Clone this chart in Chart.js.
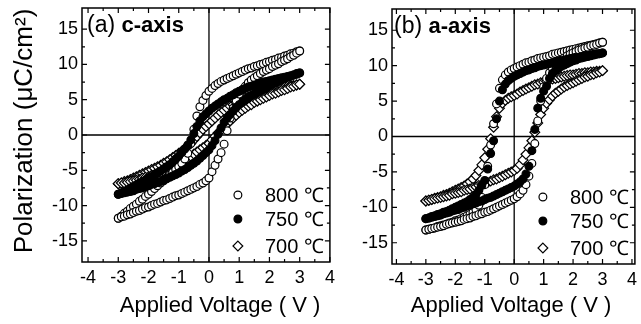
<!DOCTYPE html>
<html><head><meta charset="utf-8">
<script src="https://cdn.jsdelivr.net/npm/chart.js@4/dist/chart.umd.min.js"></script>
<style>
html,body{margin:0;padding:0;background:#fff;overflow:hidden;width:641px;height:324px}
#wa{position:absolute;left:0;top:0;width:336px;height:324px}
#wb{position:absolute;left:336px;top:0;width:305px;height:324px}
canvas{display:block}
</style></head><body>
<div id="wa"><canvas id="ca" width="336" height="324"></canvas></div>
<div id="wb"><canvas id="cb" width="305" height="324"></canvas></div>
<script>
// ---------- data ----------
const voltage = [-3.0,-2.9,-2.8,-2.7,-2.6,-2.5,-2.4,-2.3,-2.2,-2.1,
  -2.0,-1.9,-1.8,-1.7,-1.6,-1.5,-1.4,-1.3,-1.2,-1.1,
  -1.0,-0.9,-0.8,-0.7,-0.6,-0.5,-0.4,-0.3,-0.2,-0.1,
  0.0,0.1,0.2,0.3,0.4,0.5,0.6,0.7,0.8,0.9,
  1.0,1.1,1.2,1.3,1.4,1.5,1.6,1.7,1.8,1.9,
  2.0,2.1,2.2,2.3,2.4,2.5,2.6,2.7,2.8,2.9,
  3.0];
const temperatures = ['800 \u2103','750 \u2103','700 \u2103'];

// (a) c-axis
const cAxis800Down = [-11.8,-11.5,-11.1,-10.8,-10.4,-10.1,-9.8,-9.4,-9.1,-8.7,
  -8.4,-8.0,-7.6,-7.2,-6.8,-6.5,-6.1,-5.7,-5.3,-4.9,
  -4.5,-4.0,-3.4,-2.6,-1.2,0.8,2.7,4.0,4.9,5.6,
  6.2,6.6,7.0,7.3,7.6,7.8,8.0,8.2,8.4,8.6,
  8.8,9.0,9.2,9.4,9.5,9.7,9.8,10.0,10.1,10.3,
  10.4,10.6,10.7,10.9,11.0,11.2,11.3,11.5,11.6,11.8,
  11.9];
const cAxis800Up = [-11.8,-11.6,-11.5,-11.3,-11.2,-11.0,-10.8,-10.7,-10.5,-10.3,
  -10.2,-10.0,-9.8,-9.7,-9.5,-9.3,-9.2,-9.0,-8.8,-8.6,
  -8.5,-8.3,-8.1,-7.9,-7.7,-7.5,-7.3,-7.0,-6.8,-6.5,
  -6.1,-5.2,-4.3,-3.4,-2.5,-1.3,0.6,2.4,3.8,4.9,
  5.8,6.4,6.9,7.4,7.8,8.1,8.4,8.7,9.0,9.2,
  9.4,9.7,9.9,10.1,10.4,10.6,10.8,11.1,11.3,11.6,
  11.9];
const cAxis750Down = [-8.4,-8.2,-8.0,-7.8,-7.5,-7.3,-7.1,-6.8,-6.6,-6.4,
  -6.1,-5.9,-5.6,-5.4,-5.1,-4.8,-4.5,-4.2,-3.8,-3.4,
  -3.0,-2.5,-2.0,-1.4,-0.7,0.2,1.2,2.0,2.6,3.0,
  3.4,3.8,4.1,4.4,4.7,5.0,5.2,5.5,5.7,6.0,
  6.2,6.4,6.6,6.8,6.9,7.1,7.2,7.4,7.5,7.6,
  7.7,7.8,7.9,8.0,8.1,8.2,8.3,8.4,8.5,8.6,
  8.8];
const cAxis750Up = [-8.4,-8.3,-8.2,-8.1,-8.0,-7.9,-7.7,-7.6,-7.5,-7.3,
  -7.2,-7.0,-6.9,-6.7,-6.6,-6.4,-6.2,-6.0,-5.8,-5.6,
  -5.4,-5.1,-4.9,-4.6,-4.3,-4.0,-3.7,-3.3,-2.9,-2.5,
  -2.1,-1.5,-0.8,0.1,1.0,1.8,2.4,2.9,3.4,3.9,
  4.3,4.6,5.0,5.3,5.6,5.8,6.1,6.3,6.5,6.7,
  7.0,7.2,7.4,7.6,7.8,8.0,8.2,8.3,8.5,8.7,
  8.8];
const cAxis700Down = [-6.9,-6.8,-6.6,-6.5,-6.3,-6.1,-5.9,-5.7,-5.5,-5.3,
  -5.1,-4.9,-4.7,-4.5,-4.3,-4.0,-3.8,-3.5,-3.2,-2.9,
  -2.6,-2.3,-1.9,-1.6,-1.2,-0.7,-0.2,0.3,0.8,1.2,
  1.6,2.0,2.4,2.8,3.2,3.5,3.8,4.1,4.3,4.6,
  4.8,5.0,5.2,5.4,5.5,5.7,5.8,5.9,6.1,6.2,
  6.3,6.4,6.5,6.6,6.7,6.8,6.9,7.0,7.0,7.1,
  7.2];
const cAxis700Up = [-6.9,-6.8,-6.8,-6.7,-6.6,-6.5,-6.4,-6.3,-6.1,-6.0,
  -5.9,-5.7,-5.6,-5.4,-5.3,-5.1,-4.9,-4.7,-4.5,-4.3,
  -4.1,-3.8,-3.6,-3.3,-3.0,-2.7,-2.4,-2.1,-1.8,-1.5,
  -1.2,-0.7,-0.2,0.3,0.7,1.1,1.6,2.0,2.4,2.8,
  3.2,3.5,3.8,4.1,4.3,4.6,4.8,5.0,5.2,5.4,
  5.6,5.8,5.9,6.1,6.3,6.4,6.6,6.8,6.9,7.1,
  7.2];

// (b) a-axis
const aAxis800Down = [-13.2,-13.1,-13.0,-12.9,-12.7,-12.6,-12.5,-12.4,-12.2,-12.1,
  -11.9,-11.8,-11.6,-11.4,-11.2,-11.0,-10.7,-10.3,-9.7,-8.6,
  -6.8,-4.2,-1.2,1.8,4.6,6.8,8.0,8.7,9.1,9.4,
  9.6,9.8,10.0,10.2,10.4,10.5,10.7,10.8,11.0,11.1,
  11.2,11.3,11.4,11.6,11.7,11.8,11.9,12.0,12.1,12.2,
  12.3,12.4,12.5,12.6,12.7,12.8,12.9,13.0,13.1,13.2,
  13.3];
const aAxis800Up = [-13.2,-13.1,-13.0,-12.9,-12.8,-12.7,-12.6,-12.4,-12.3,-12.2,
  -12.1,-12.0,-11.9,-11.7,-11.6,-11.5,-11.3,-11.2,-11.0,-10.9,
  -10.7,-10.6,-10.4,-10.2,-10.0,-9.8,-9.6,-9.4,-9.2,-9.0,
  -8.8,-8.5,-8.1,-7.6,-6.8,-5.6,-3.8,-1.0,2.2,5.0,
  7.0,8.2,9.0,9.6,10.1,10.5,10.8,11.1,11.4,11.6,
  11.8,12.0,12.2,12.3,12.5,12.6,12.8,12.9,13.0,13.2,
  13.3];
const aAxis750Down = [-11.6,-11.5,-11.3,-11.2,-11.0,-10.9,-10.7,-10.6,-10.4,-10.2,
  -10.0,-9.8,-9.6,-9.4,-9.2,-8.9,-8.6,-8.2,-7.6,-6.9,
  -6.2,-4.6,-2.4,-0.6,2.5,5.0,6.6,7.4,7.9,8.2,
  8.5,8.7,8.9,9.1,9.3,9.4,9.6,9.7,9.9,10.0,
  10.1,10.2,10.3,10.4,10.5,10.6,10.7,10.8,10.9,11.0,
  11.1,11.2,11.2,11.3,11.4,11.4,11.5,11.6,11.7,11.7,
  11.8];
const aAxis750Up = [-11.6,-11.5,-11.4,-11.3,-11.2,-11.1,-10.9,-10.8,-10.7,-10.5,
  -10.4,-10.3,-10.1,-10.0,-9.8,-9.7,-9.5,-9.4,-9.2,-9.1,
  -8.9,-8.7,-8.6,-8.4,-8.2,-8.0,-7.8,-7.6,-7.4,-7.2,
  -7.0,-6.7,-6.4,-6.0,-5.3,-4.2,-2.0,1.0,4.0,5.4,
  6.4,7.1,8.2,8.9,9.3,9.6,9.9,10.1,10.3,10.5,
  10.7,10.8,11.0,11.1,11.2,11.3,11.4,11.5,11.6,11.7,
  11.8];
const aAxis700Down = [-9.1,-9.0,-8.9,-8.7,-8.6,-8.5,-8.3,-8.2,-8.0,-7.8,
  -7.6,-7.4,-7.2,-7.0,-6.7,-6.4,-6.0,-5.5,-4.8,-4.0,
  -3.0,-1.8,-0.3,1.3,2.8,4.0,4.7,5.1,5.4,5.6,
  5.8,6.0,6.3,6.5,6.7,6.9,7.1,7.3,7.4,7.6,
  7.7,7.8,8.0,8.1,8.2,8.3,8.4,8.5,8.6,8.7,
  8.7,8.8,8.9,8.9,9.0,9.0,9.1,9.1,9.2,9.2,
  9.3];
const aAxis700Up = [-9.1,-9.0,-8.9,-8.8,-8.7,-8.6,-8.5,-8.4,-8.3,-8.1,
  -8.0,-7.9,-7.8,-7.6,-7.5,-7.4,-7.2,-7.1,-6.9,-6.8,
  -6.6,-6.5,-6.3,-6.1,-6.0,-5.8,-5.6,-5.4,-5.2,-5.0,
  -4.8,-4.5,-4.0,-3.3,-2.5,-1.6,-0.6,0.6,1.9,3.1,
  4.0,4.7,5.2,5.7,6.1,6.4,6.7,7.0,7.2,7.4,
  7.6,7.8,8.0,8.2,8.4,8.5,8.7,8.8,9.0,9.1,
  9.3];

const xTicks = [-4,-3,-2,-1,0,1,2,3,4];
const xMinorTicks = [-3.5,-2.5,-1.5,-0.5,0.5,1.5,2.5,3.5];
const yTicks = [-15,-10,-5,0,5,10,15];
const yMinorTicks = [-12.5,-7.5,-2.5,2.5,7.5,12.5];

// ---------- drawing ----------
const FAM = "'Liberation Sans', Arial, Helvetica, sans-serif";
const markerDefs = [
  {style:'circle', radius:3.9, fill:'#fff'},
  {style:'circle', radius:3.9, fill:'#000'},
  {style:'rectRot', radius:4.9, fill:'#fff'}
];

function buildPoints(down, up) {
  return voltage.map((v,i)=>({x:v, y:down[i]})).concat(voltage.map((v,i)=>({x:v, y:up[i]})));
}

function drawMarker(ctx, m, x, y) {
  ctx.beginPath();
  if (m.style === 'circle') {
    ctx.arc(x, y, m.radius, 0, Math.PI*2);
  } else {
    ctx.moveTo(x, y - m.radius); ctx.lineTo(x + m.radius, y);
    ctx.lineTo(x, y + m.radius); ctx.lineTo(x - m.radius, y); ctx.closePath();
  }
  ctx.fillStyle = m.fill; ctx.fill();
  ctx.lineWidth = 1.2; ctx.strokeStyle = '#000'; ctx.stroke();
}

const decor = {
  id: 'decor',
  beforeDatasetsDraw(chart) {
    const {ctx, chartArea: ca, scales: {x, y}} = chart;
    ctx.save();
    ctx.strokeStyle = '#000'; ctx.lineWidth = 1.3;
    const x0 = x.getPixelForValue(0), y0 = y.getPixelForValue(0);
    ctx.beginPath();
    ctx.moveTo(x0, ca.top); ctx.lineTo(x0, ca.bottom);
    ctx.moveTo(ca.left, y0); ctx.lineTo(ca.right, y0);
    ctx.stroke();
    ctx.restore();
  },
  afterDraw(chart, args, o) {
    const {ctx, chartArea: ca, scales: {x, y}} = chart;
    ctx.save();
    ctx.strokeStyle = '#000';
    ctx.lineWidth = 1.2;
    ctx.beginPath();
    const tx = (vals, len) => vals.forEach(v => {
      const px = x.getPixelForValue(v);
      ctx.moveTo(px, ca.bottom); ctx.lineTo(px, ca.bottom - len);
      ctx.moveTo(px, ca.top); ctx.lineTo(px, ca.top + len);
    });
    const ty = (vals, len) => vals.forEach(v => {
      const py = y.getPixelForValue(v);
      ctx.moveTo(ca.left, py); ctx.lineTo(ca.left + len, py);
      ctx.moveTo(ca.right, py); ctx.lineTo(ca.right - len, py);
    });
    tx(xTicks, 5); tx(xMinorTicks, 3); ty(yTicks, 5); ty(yMinorTicks, 3);
    ctx.stroke();
    ctx.lineWidth = 1.5;
    ctx.strokeRect(ca.left, ca.top, ca.right - ca.left, ca.bottom - ca.top);

    ctx.fillStyle = '#000';
    ctx.textBaseline = 'alphabetic'; ctx.textAlign = 'left';
    ctx.font = '23px ' + FAM;
    const lx = ca.left + o.labelDx, ly = ca.top + 24;
    ctx.fillText(o.labelA, lx, ly);
    const w = ctx.measureText(o.labelA).width;
    ctx.font = 'bold 22px ' + FAM;
    ctx.fillText(o.labelB, lx + w, ly);

    const rowsFromBottom = [67, 43, 16];
    ctx.font = '20px ' + FAM;
    ctx.textBaseline = 'middle';
    temperatures.forEach((t, i) => {
      const yy = ca.bottom - rowsFromBottom[i];
      drawMarker(ctx, markerDefs[i], ca.right - 92, yy);
      ctx.fillStyle = '#000';
      ctx.fillText(t, ca.right - 65, yy + 1);
    });

    ctx.font = '22px ' + FAM;
    ctx.textAlign = 'center'; ctx.textBaseline = 'alphabetic';
    ctx.fillText('Applied Voltage ( V )', o.xTitleX, 312);

    if (o.yTitle) {
      ctx.translate(25, 131);
      ctx.rotate(-Math.PI / 2);
      ctx.font = '26px ' + FAM;
      ctx.textAlign = 'center'; ctx.textBaseline = 'middle';
      ctx.fillText(o.yTitle, 0, 0);
    }
    ctx.restore();
  }
};

function makeChart(id, series, opt) {
  const order = [1, 0, 2];
  const datasets = order.map(k => ({
    label: temperatures[k],
    data: buildPoints(series[k][0], series[k][1]),
    pointStyle: markerDefs[k].style,
    pointRadius: markerDefs[k].radius,
    pointBackgroundColor: markerDefs[k].fill,
    pointBorderColor: '#000',
    pointBorderWidth: 1.2,
    showLine: false
  }));
  return new Chart(document.getElementById(id), {
    type: 'scatter',
    data: {datasets},
    plugins: [decor],
    options: {
      responsive: false, animation: false, devicePixelRatio: 1,
      layout: {padding: opt.padding},
      plugins: {legend: {display: false}, tooltip: {enabled: false},
        decor: {labelA: opt.labelA, labelB: opt.labelB, labelDx: opt.labelDx, xTitleX: opt.xTitleX, yTitle: opt.yTitle}},
      scales: {
        x: {
          type: 'linear', min: opt.xMin, max: opt.xMax,
          afterBuildTicks: s => { s.ticks = xTicks.map(v => ({value: v})); },
          afterFit: s => { s.height = opt.xHeight; s.paddingLeft = 0; s.paddingRight = 0; },
          ticks: {color: '#000', font: {family: FAM, size: 18}, padding: 5, maxRotation: 0, autoSkip: false,
                  callback: v => String(v)},
          grid: {display: false, drawTicks: false}, border: {display: false}
        },
        y: {
          type: 'linear', min: -18, max: 18,
          afterBuildTicks: s => { s.ticks = yTicks.map(v => ({value: v})); },
          afterFit: s => { s.width = opt.yWidth; s.paddingTop = 0; s.paddingBottom = 0; },
          ticks: {color: '#000', font: {family: FAM, size: 18}, padding: 4, autoSkip: false,
                  callback: v => String(v)},
          grid: {display: false, drawTicks: false}, border: {display: false}
        }
      }
    }
  });
}

makeChart('ca', [[cAxis800Down, cAxis800Up], [cAxis750Down, cAxis750Up], [cAxis700Down, cAxis700Up]], {
  padding: {left: 0, right: 6, top: 8, bottom: 0}, xHeight: 62, yWidth: 82,
  xMin: -4.2, xMax: 4.0, labelA: '(a) ', labelB: 'c-axis', labelDx: 5, xTitleX: 220,
  yTitle: 'Polarization (\u03bcC/cm\u00b2)'
});
makeChart('cb', [[aAxis800Down, aAxis800Up], [aAxis750Down, aAxis750Up], [aAxis700Down, aAxis700Up]], {
  padding: {left: 0, right: 1, top: 9, bottom: 0}, xHeight: 60, yWidth: 56,
  xMin: -4.15, xMax: 4.1, labelA: '(b) ', labelB: 'a-axis', labelDx: 2, xTitleX: 175,
  yTitle: null
});
</script>
</body></html>
